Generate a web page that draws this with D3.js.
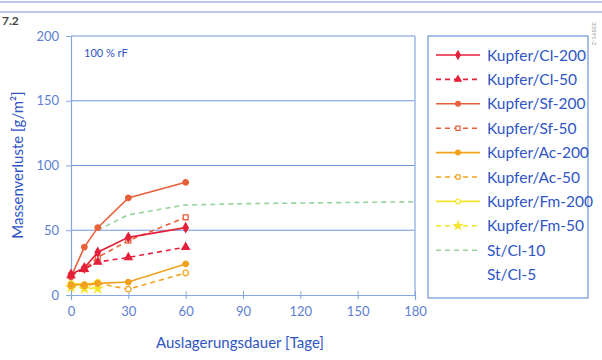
<!DOCTYPE html>
<html>
<head>
<meta charset="utf-8">
<script src="https://cdn.jsdelivr.net/npm/d3@7"></script>
<style>
  body { margin: 0; background: #fff; }
  text { font-family: Lato, "Open Sans", sans-serif; }
</style>
</head>
<body>
<script>
// data
var days = [0, 7, 14, 30, 60];
var cl200 = [16, 21, 33, 44.5, 52];
var cl50 = [15, 20, 25.5, 29, 37];
var sf200 = [14, 37, 52, 75, 87];
var sf50 = [15, 20, 29, 42, 60];
var ac200 = [8, 8, 9, 10, 24];
var ac50 = [7, 7, 9, 4.5, 17];
var fmDays = [0, 7, 14];
var fm200 = [9, 8, 10];
var fm50 = [6, 5, 5];
var stDays = [14, 30, 60, 90, 120, 150, 180];
var st10 = [50, 62, 69.5, 70.5, 71, 71.5, 72];
var xTicks = [0, 30, 60, 90, 120, 150, 180];
var yTicks = [0, 50, 100, 150, 200];

var series = [
  {name: "Kupfer/Cl-200", x: days, y: cl200, color: "#e4203a", dash: null, sym: d3.symbolDiamond, fill: true},
  {name: "Kupfer/Cl-50", x: days, y: cl50, color: "#e4203a", dash: "5,4", sym: d3.symbolTriangle, fill: true},
  {name: "Kupfer/Sf-200", x: days, y: sf200, color: "#e8603a", dash: null, sym: d3.symbolCircle, fill: true},
  {name: "Kupfer/Sf-50", x: days, y: sf50, color: "#e8603a", dash: "5,4", sym: d3.symbolSquare, fill: false},
  {name: "Kupfer/Ac-200", x: days, y: ac200, color: "#f0a21e", dash: null, sym: d3.symbolCircle, fill: true},
  {name: "Kupfer/Ac-50", x: days, y: ac50, color: "#f0a21e", dash: "5,4", sym: d3.symbolCircle, fill: false},
  {name: "Kupfer/Fm-200", x: fmDays, y: fm200, color: "#f4e42a", dash: null, sym: d3.symbolCircle, fill: false},
  {name: "Kupfer/Fm-50", x: fmDays, y: fm50, color: "#f4e42a", dash: "5,4", sym: d3.symbolStar, fill: true},
  {name: "St/Cl-10", x: stDays, y: st10, color: "#94d49a", dash: "5,4", sym: null, fill: false},
  {name: "St/Cl-5", x: [], y: [], color: "none", dash: null, sym: null, fill: false}
];

var blue = "#2f55c4", axisBlue = "#86a6df", tickBlue = "#5d80d2";

var svg = d3.select("body").append("svg")
    .attr("width", 602)
    .attr("height", 360);

// header rules
svg.append("line").attr("x1", 0).attr("x2", 602).attr("y1", 2).attr("y2", 2)
    .attr("stroke", "#9fb6e6").attr("stroke-width", 1.5);
svg.append("line").attr("x1", 0).attr("x2", 602).attr("y1", 12).attr("y2", 12)
    .attr("stroke", "#9fb6e6").attr("stroke-width", 1.5);
svg.append("text").attr("x", 2).attr("y", 25).attr("font-size", 12).attr("font-weight", "bold")
    .attr("fill", "#444").text("7.2");
svg.append("text").attr("transform", "translate(592,22) rotate(90)")
    .attr("font-size", 6).attr("fill", "#999").text("33591-2");

var x = d3.scaleLinear().domain([0, 180]).range([71, 415]);
var y = d3.scaleLinear().domain([0, 200]).range([295, 36]);

// grid
svg.append("g").selectAll("line").data(yTicks.slice(1)).join("line")
    .attr("x1", x(0)).attr("x2", x(180))
    .attr("y1", function(d) { return y(d); }).attr("y2", function(d) { return y(d); })
    .attr("stroke", "#7396da").attr("stroke-width", 1.2);
svg.append("line").attr("x1", x(180)).attr("x2", x(180)).attr("y1", y(200)).attr("y2", y(0))
    .attr("stroke", axisBlue).attr("stroke-width", 1.2);

// axes
var gx = svg.append("g").attr("transform", "translate(0," + y(0) + ")")
    .call(d3.axisBottom(x).tickValues(xTicks).tickSize(5).tickPadding(7));
var gy = svg.append("g").attr("transform", "translate(" + x(0) + ",0)")
    .call(d3.axisLeft(y).tickValues(yTicks).tickSize(5).tickPadding(7));
[gx, gy].forEach(function(g) {
  g.select(".domain").attr("stroke", axisBlue).attr("stroke-width", 1.2);
  g.selectAll(".tick line").attr("stroke", axisBlue);
  g.selectAll(".tick text").attr("fill", tickBlue).attr("font-size", 13)
      .attr("font-family", "Lato, sans-serif");
});
gx.selectAll(".tick line").attr("y1", -4).attr("y2", 4);

svg.append("text").attr("x", 84).attr("y", 57).attr("font-size", 11)
    .attr("fill", blue).text("100 % rF");

svg.append("text").attr("transform", "translate(23,165) rotate(-90)")
    .attr("text-anchor", "middle").attr("font-size", 15).attr("fill", blue)
    .text("Massenverluste [g/m²]");
svg.append("text").attr("x", 240).attr("y", 348)
    .attr("text-anchor", "middle").attr("font-size", 15).attr("fill", blue)
    .text("Auslagerungsdauer [Tage]");

// series lines and markers
var line = d3.line().x(function(d) { return x(d[0]); }).y(function(d) { return y(d[1]); });
var plot = svg.append("g");
series.slice().reverse().forEach(function(s) {
  var pts = s.x.map(function(v, i) { return [v, s.y[i]]; });
  if (!pts.length) return;
  plot.append("path").datum(pts).attr("d", line)
      .attr("fill", "none").attr("stroke", s.color).attr("stroke-width", 1.6)
      .attr("stroke-dasharray", s.dash);
  if (s.sym) {
    plot.selectAll(null).data(pts).join("path")
        .attr("transform", function(d) { return "translate(" + x(d[0]) + "," + y(d[1]) + ")"; })
        .attr("d", d3.symbol().type(s.sym).size(24))
        .attr("fill", s.fill ? s.color : "#fff")
        .attr("stroke", s.color).attr("stroke-width", 1.3);
  }
});

// legend
svg.append("rect").attr("x", 428).attr("y", 36).attr("width", 160).attr("height", 262)
    .attr("fill", "none").attr("stroke", "#8eaae0").attr("stroke-width", 1.5);
var leg = svg.append("g").selectAll("g").data(series).join("g")
    .attr("transform", function(d, i) { return "translate(0," + (55 + i * 24.4) + ")"; });
leg.append("line").attr("x1", 436).attr("x2", 480)
    .attr("stroke", function(d) { return d.color; }).attr("stroke-width", 1.6)
    .attr("stroke-dasharray", function(d) { return d.dash; });
leg.filter(function(d) { return d.sym; }).append("path")
    .attr("transform", "translate(458,0)")
    .attr("d", function(d) { return d3.symbol().type(d.sym).size(18)(); })
    .attr("fill", function(d) { return d.fill ? d.color : "#fff"; })
    .attr("stroke", function(d) { return d.color; }).attr("stroke-width", 1.2);
leg.append("text").attr("x", 487).attr("y", 5.5).attr("font-size", 15.5)
    .attr("fill", blue).text(function(d) { return d.name; });
</script>
</body>
</html>
